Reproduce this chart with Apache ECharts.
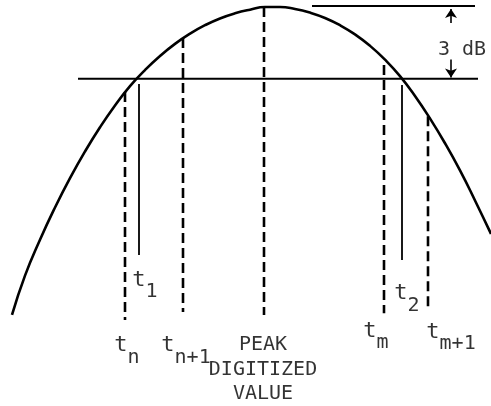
<!DOCTYPE html>
<html style="height: 100%">
<head>
    <meta charset="utf-8">
    <script src="https://cdn.jsdelivr.net/npm/echarts@6/dist/echarts.min.js"></script>
</head>
<body style="height: 100%; margin: 0; background: #fff">
    <div id="main" style="width: 491px; height: 406px"></div>
    <script type="text/javascript">
        // response curve, level in dB relative to the peak
        var curveT = [12, 25, 40, 55, 70, 85, 100, 115, 130, 145, 160, 175, 190, 205, 220, 235, 250, 265,
            280, 295, 310, 325, 340, 355, 370, 385, 400, 415, 430, 445, 460, 475, 491];
        var curveDb = [-12.74, -11.12, -9.64, -8.31, -7.10, -6.00, -5.00, -4.10, -3.30, -2.64, -2.06, -1.56, -1.14, -0.79, -0.51, -0.30, -0.15, -0.04,
            -0.04, -0.12, -0.27, -0.49, -0.79, -1.17, -1.64, -2.21, -2.89, -3.71, -4.64, -5.66, -6.78, -8.02, -9.40];

        // digitized samples (dashed): t_n, t_n+1, peak, t_m, t_m+1
        var sampleT = [125, 183, 264, 384, 428];
        var sampleTop = [-3.55, -1.32, -0.04, -2.43, -4.55];
        var sampleBottom = [-12.95, -12.62, -12.75, -12.67, -12.54];

        // 3 dB crossings (solid): t1, t2
        var crossT = [139, 402];
        var crossTop = [-3.22, -3.26];
        var crossBottom = [-10.27, -10.48];

        var levelDb = -3;
        var levelLine = [78, 478];
        var peakLine = [312, 475];
        var arrowT = 451;

        var labelSub = ['n', 'n+1', '1', 'm', 'm+1', '2'];
        var labelT = [127, 186, 145, 376, 451, 407];
        var labelDb = [-14.25, -14.25, -11.55, -13.65, -13.7, -12.1];

        var mono = 'DejaVu Sans Mono';
        var chart = echarts.init(document.getElementById('main'));

        var series = [];
        series.push({
            type: 'line',
            data: curveT.map(function (t, i) { return [t, curveDb[i]]; }),
            smooth: 0.5,
            showSymbol: false,
            lineStyle: { color: '#000', width: 2.6 }
        });
        series.push({
            type: 'line',
            data: [[levelLine[0], levelDb], [levelLine[1], levelDb]],
            showSymbol: false,
            lineStyle: { color: '#000', width: 2 }
        });
        series.push({
            type: 'line',
            data: [[peakLine[0], 0], [peakLine[1], 0]],
            showSymbol: false,
            lineStyle: { color: '#000', width: 2 },
            markLine: {
                silent: true,
                symbol: ['none', 'arrow'],
                symbolSize: 9,
                label: { show: false },
                lineStyle: { color: '#000', width: 1.6, type: 'solid' },
                data: [
                    [{ coord: [arrowT, -0.7] }, { coord: [arrowT, -0.12] }],
                    [{ coord: [arrowT, -2.2] }, { coord: [arrowT, levelDb + 0.05] }]
                ]
            }
        });
        sampleT.forEach(function (t, i) {
            series.push({
                type: 'line',
                data: [[t, sampleTop[i]], [t, sampleBottom[i]]],
                showSymbol: false,
                lineStyle: { color: '#000', width: 2.6, type: [10, 5] }
            });
        });
        crossT.forEach(function (t, i) {
            series.push({
                type: 'line',
                data: [[t, crossTop[i]], [t, crossBottom[i]]],
                showSymbol: false,
                lineStyle: { color: '#000', width: 1.8 }
            });
        });
        series.push({
            type: 'scatter',
            symbolSize: 1,
            itemStyle: { color: 'rgba(0,0,0,0)' },
            data: labelT.map(function (t, i) { return [t, labelDb[i], labelSub[i]]; }),
            label: {
                show: true,
                position: 'inside',
                formatter: function (p) { return '{m|t}{s|' + p.data[2] + '}'; },
                rich: {
                    m: { fontFamily: mono, fontSize: 22, color: '#000', padding: [0, 0, 12, 0] },
                    s: { fontFamily: mono, fontSize: 20, color: '#000', padding: [12, 0, 0, 0] }
                }
            }
        });
        series.push({
            type: 'scatter',
            symbolSize: 1,
            itemStyle: { color: 'rgba(0,0,0,0)' },
            data: [[263, -15.0, 'PEAK\nDIGITIZED\nVALUE'], [462, -1.8, '3 dB']],
            label: {
                show: true,
                position: 'inside',
                formatter: function (p) { return p.data[2]; },
                fontFamily: mono,
                fontSize: 20,
                lineHeight: 24.5,
                color: '#000',
                align: 'center'
            }
        });

        var option = {
            animation: false,
            grid: { left: 0, right: 0, top: 0, bottom: 0 },
            xAxis: { type: 'value', min: 0, max: 491, show: false },
            yAxis: { type: 'value', min: -16.5, max: 0.25, show: false },
            series: series
        };
        chart.setOption(option);
    </script>
</body>
</html>
